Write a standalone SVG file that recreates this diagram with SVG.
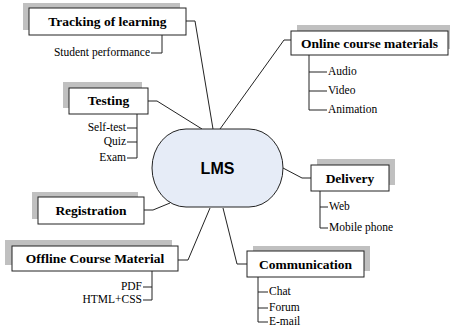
<svg xmlns="http://www.w3.org/2000/svg" width="450" height="327" viewBox="0 0 450 327">
<style>
.sh{fill:#c0c0c0}
.bx{fill:#fff;stroke:#222;stroke-width:1}
.t{font-family:'Liberation Serif','Times New Roman',serif;font-weight:bold;font-size:13.5px;fill:#000;text-anchor:middle}
.c{font-family:'Liberation Serif','Times New Roman',serif;font-size:11.5px;fill:#000}
.r{text-anchor:end}
.ln{fill:none;stroke:#222;stroke-width:1}
</style>
<rect width="450" height="327" fill="#fff"/>
<g id="connectors" class="ln">
<polyline points="186,21 195,21 213,129"/>
<polyline points="291,40 284,40 220,129"/>
<polyline points="148,101 157,101 202,129"/>
<polyline points="311,178 302,178 283,168"/>
<polyline points="144,210 153,210 170,203"/>
<polyline points="178,260 188,260 210,208"/>
<polyline points="247,264 237,264 223,208"/>
</g>
<g id="lms">
<rect x="152" y="129" width="131" height="78" rx="34" ry="39" fill="#e6ecf7" stroke="#222"/>
<text x="217.5" y="174" font-family="'Liberation Sans',Arial,sans-serif" font-weight="bold" font-size="16" text-anchor="middle">LMS</text>
</g>
<g id="tracking">
<rect class="sh" x="23" y="3" width="157" height="27"/>
<rect class="bx" x="29" y="8" width="157" height="27"/>
<text class="t" x="107.5" y="26">Tracking of learning</text>
<polyline class="ln" points="162,35 162,53 151,53"/>
<text class="c r" x="150" y="56">Student performance</text>
</g>
<g id="online">
<rect class="sh" x="297" y="25" width="157" height="24"/>
<rect class="bx" x="291" y="31" width="157" height="24"/>
<text class="t" x="369.5" y="48">Online course materials</text>
<polyline class="ln" points="309,55 309,110 327,110"/>
<line class="ln" x1="309" y1="72" x2="327" y2="72"/>
<line class="ln" x1="309" y1="91" x2="327" y2="91"/>
<text class="c" x="328" y="75">Audio</text>
<text class="c" x="328" y="94">Video</text>
<text class="c" x="328" y="113">Animation</text>
</g>
<g id="testing">
<rect class="sh" x="63" y="82" width="79" height="26"/>
<rect class="bx" x="69" y="88" width="79" height="26"/>
<text class="t" x="108.5" y="105">Testing</text>
<polyline class="ln" points="137,114 137,158 127,158"/>
<line class="ln" x1="127" y1="128" x2="137" y2="128"/>
<line class="ln" x1="127" y1="142" x2="137" y2="142"/>
<text class="c r" x="126" y="131">Self-test</text>
<text class="c r" x="126" y="145">Quiz</text>
<text class="c r" x="126" y="161">Exam</text>
</g>
<g id="delivery">
<rect class="sh" x="317" y="159" width="78" height="26"/>
<rect class="bx" x="311" y="165" width="78" height="26"/>
<text class="t" x="350" y="183">Delivery</text>
<polyline class="ln" points="320,191 320,228 328,228"/>
<line class="ln" x1="320" y1="207" x2="328" y2="207"/>
<text class="c" x="329" y="210">Web</text>
<text class="c" x="329" y="231">Mobile phone</text>
</g>
<g id="registration">
<rect class="sh" x="32" y="192" width="106" height="27"/>
<rect class="bx" x="38" y="197" width="106" height="27"/>
<text class="t" x="91" y="215">Registration</text>
</g>
<g id="offline">
<rect class="sh" x="5" y="240" width="167" height="25"/>
<rect class="bx" x="12" y="246" width="166" height="25"/>
<text class="t" x="95" y="263">Offline Course Material</text>
<polyline class="ln" points="152,271 152,300 143,300"/>
<line class="ln" x1="143" y1="287" x2="152" y2="287"/>
<text class="c r" x="142" y="290">PDF</text>
<text class="c r" x="142" y="303">HTML+CSS</text>
</g>
<g id="communication">
<rect class="sh" x="253" y="246" width="117" height="25"/>
<rect class="bx" x="247" y="251" width="117" height="26"/>
<text class="t" x="305.5" y="269">Communication</text>
<polyline class="ln" points="258,277 258,322 268,322"/>
<line class="ln" x1="258" y1="292" x2="268" y2="292"/>
<line class="ln" x1="258" y1="308" x2="268" y2="308"/>
<text class="c" x="269" y="295">Chat</text>
<text class="c" x="269" y="311">Forum</text>
<text class="c" x="269" y="325">E-mail</text>
</g>
</svg>
